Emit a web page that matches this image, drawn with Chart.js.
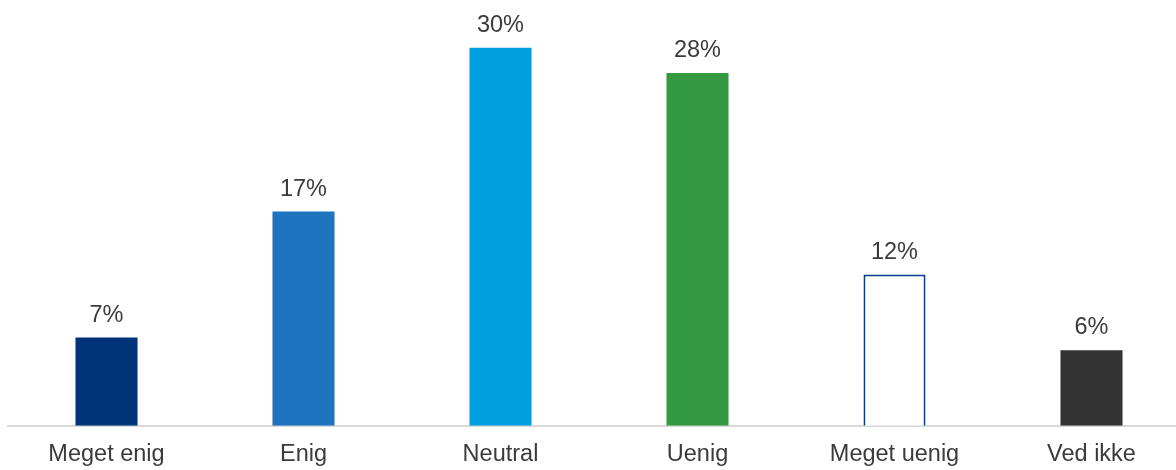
<!DOCTYPE html>
<html>
<head>
<meta charset="utf-8">
<script src="https://cdn.jsdelivr.net/npm/chart.js@4/dist/chart.umd.min.js"></script>
<style>
  html, body { margin: 0; padding: 0; background: #fff; overflow: hidden; }
  #wrap { width: 1190px; height: 470px; }
</style>
</head>
<body>
<div id="wrap"><canvas id="myChart"></canvas></div>
<script>
const categories = ["Meget enig", "Enig", "Neutral", "Uenig", "Meget uenig", "Ved ikke"];
const shares = [7, 17, 30, 28, 12, 6];
const fills = ["#003478", "#1f74bf", "#009fe0", "#349a42", "#ffffff", "#333333"];
const borders = ["#003478", "#1f74bf", "#009fe0", "#349a42", "#0b3f8c", "#333333"];
const borderWidths = [0, 0, 0, 0, 2, 0];

const FONT = "'Liberation Sans', Arial, sans-serif";

// prints the percentage above each bar
const valueLabels = {
  id: "valueLabels",
  afterDatasetsDraw(chart) {
    const ctx = chart.ctx;
    const meta = chart.getDatasetMeta(0);
    ctx.save();
    ctx.font = "23.5px " + FONT;
    ctx.fillStyle = "#3b3b3b";
    ctx.textAlign = "center";
    ctx.textBaseline = "alphabetic";
    meta.data.forEach((bar, i) => {
      ctx.fillText(shares[i] + "%", bar.x, bar.y - 16);
    });
    ctx.restore();
  }
};

new Chart(document.getElementById("myChart"), {
  type: "bar",
  data: {
    labels: categories,
    datasets: [{
      data: shares,
      backgroundColor: fills,
      borderColor: borders,
      borderWidth: borderWidths,
      barPercentage: 0.315,
      categoryPercentage: 1
    }]
  },
  options: {
    responsive: true,
    maintainAspectRatio: false,
    animation: false,
    layout: { padding: { top: 10, left: 8, right: 0, bottom: -14 } },
    plugins: {
      legend: { display: false },
      tooltip: { enabled: false }
    },
    scales: {
      x: {
        grid: { display: false, drawTicks: false },
        border: { display: true, color: "#d9d9d9", width: 2 },
        ticks: {
          color: "#3b3b3b",
          padding: 15,
          font: { family: FONT, size: 23.5 }
        }
      },
      y: {
        display: false,
        min: 0,
        max: 33
      }
    }
  },
  plugins: [valueLabels]
});
</script>
</body>
</html>
